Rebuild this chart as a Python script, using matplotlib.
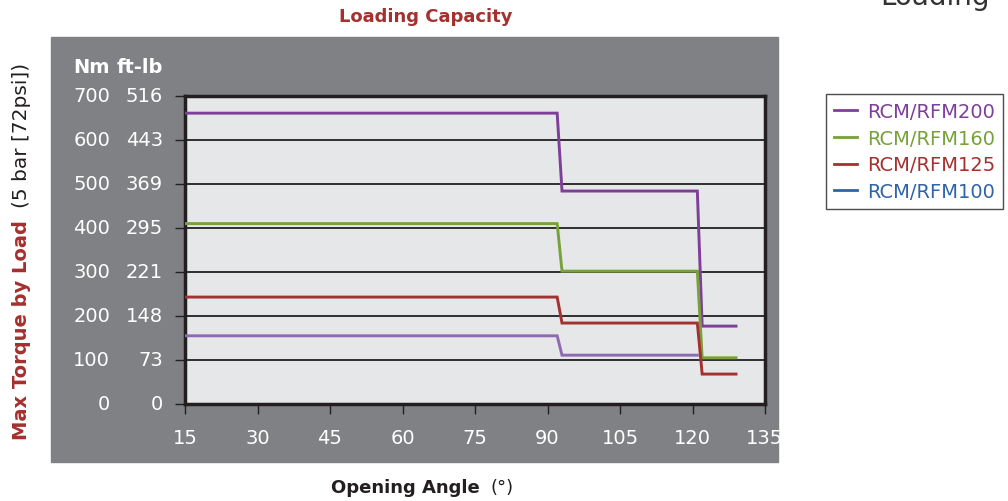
import matplotlib.pyplot as plt
from matplotlib.patches import Rectangle
from matplotlib.lines import Line2D

# data (angle in degrees, torque in Nm)
angle_200 = [15, 92, 93, 121, 122, 129]
torque_200 = [661, 661, 484, 484, 177, 177]
angle_160 = [15, 92, 93, 121, 122, 129]
torque_160 = [410, 410, 302, 302, 105, 105]
angle_125 = [15, 92, 93, 121, 122, 129]
torque_125 = [243, 243, 184, 184, 68, 68]
angle_100 = [15, 92, 93, 121]
torque_100 = [155, 155, 111, 111]

series_names = ["RCM/RFM200", "RCM/RFM160", "RCM/RFM125", "RCM/RFM100"]
line_colors = ["#7E3F98", "#77A13A", "#A4302F", "#8C6BB1"]
legend_colors = ["#7E3F98", "#77A13A", "#A4302F", "#2F64A5"]

nm_ticks = [0, 100, 200, 300, 400, 500, 600, 700]
ftlb_labels = ["0", "73", "148", "221", "295", "369", "443", "516"]
x_ticks = [15, 30, 45, 60, 75, 90, 105, 120, 135]

plt.rcParams['font.family'] = ['DejaVu Sans']

W, H = 1008, 502
fig = plt.figure(figsize=(W / 100, H / 100), dpi=100)

# grey chart panel (behind the axes)
fig.patches.append(Rectangle((51 / W, 1 - 463 / H), (778 - 51) / W, (463 - 38) / H,
                             transform=fig.transFigure, color="#808184", zorder=-5))

ax = fig.add_axes([185 / W, 1 - 405 / H, 580 / W, 308 / H])
ax.set_zorder(1)
ax.set_facecolor("#E6E7E8")
ax.set_xlim(15, 135)
ax.set_ylim(0, 700)

for a, t, c in zip([angle_200, angle_160, angle_125, angle_100],
                   [torque_200, torque_160, torque_125, torque_100], line_colors):
    ax.plot(a, t, color=c, lw=2.1, zorder=3, solid_joinstyle="miter")

ax.set_yticks(nm_ticks)
ax.set_yticklabels([])
ax.set_xticks(x_ticks)
ax.set_xticklabels([str(v) for v in x_ticks], color="white", fontsize=14)
ax.tick_params(axis="x", length=7, width=1, color="#231F20", pad=10)
ax.tick_params(axis="y", length=7, width=1, color="#231F20")
ax.grid(axis="y", color="#231F20", lw=1.3)
ax.set_axisbelow(True)
for s in ax.spines.values():
    s.set_color("#231F20")
    s.set_linewidth(2.5)

# two-unit y tick labels
ytr = ax.get_yaxis_transform()
for v, f in zip(nm_ticks, ftlb_labels):
    ax.text(-0.129, v, str(v), transform=ytr, ha="right", va="center",
            color="white", fontsize=14)
    ax.text(-0.038, v, f, transform=ytr, ha="right", va="center",
            color="white", fontsize=14)
ax.text(-0.129, 1.095, "Nm", transform=ax.transAxes, ha="right", va="center",
        color="white", fontsize=14, fontweight="bold")
ax.text(-0.038, 1.095, "ft-lb", transform=ax.transAxes, ha="right", va="center",
        color="white", fontsize=14, fontweight="bold")

# titles and axis labels
fig.text(426 / W, 1 - 17 / H, "Loading Capacity", ha="center", va="center",
         color="#A4302F", fontsize=13, fontweight="bold")
fig.text(880 / W, 1 - 5 / H, "Loading", ha="left", va="baseline",
         color="#333333", fontsize=20)
fig.text(331 / W, 1 - 488 / H, "Opening Angle", ha="left", va="center",
         color="#231F20", fontsize=13, fontweight="bold")
fig.text(490 / W, 1 - 488 / H, "(°)", ha="left", va="center",
         color="#231F20", fontsize=13)
fig.text(22 / W, 1 - 440 / H, "Max Torque by Load", ha="center", va="bottom",
         rotation=90, color="#A4302F", fontsize=14, fontweight="bold")
fig.text(22 / W, 1 - 208 / H, "(5 bar [72psi])", ha="center", va="bottom",
         rotation=90, color="#231F20", fontsize=14.5)

# legend
handles = [Line2D([], [], color=c, lw=2) for c in legend_colors]
leg = fig.legend(handles, series_names, loc="upper left",
                 bbox_to_anchor=(826 / W, 1 - 95 / H), fontsize=14,
                 frameon=True, fancybox=False, edgecolor="#231F20",
                 handlelength=1.2, handletextpad=0.5, labelspacing=0.4,
                 borderpad=0.4, borderaxespad=0)
leg.get_frame().set_linewidth(1)
for txt, c in zip(leg.get_texts(), legend_colors):
    txt.set_color(c)

fig.savefig("out.png", dpi=100)
